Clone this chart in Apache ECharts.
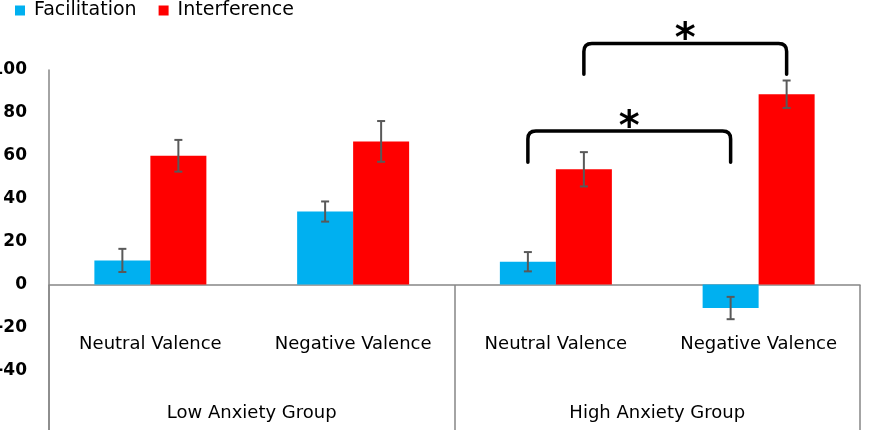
<!DOCTYPE html>
<html>
<head>
<meta charset="utf-8">
<script src="https://cdn.jsdelivr.net/npm/echarts@6/dist/echarts.min.js"></script>
<style>
  html, body { margin: 0; padding: 0; background: #fff; }
  #main { width: 870px; height: 430px; }
</style>
</head>
<body>
<div id="main"></div>
<script>
// 数据
let valenceList = ['Neutral Valence', 'Negative Valence', 'Neutral Valence', 'Negative Valence']
let groupList = ['Low Anxiety Group', 'High Anxiety Group']
let facilitation = [11.2, 34, 10.6, -11]
let facilitationErr = [5.4, 4.7, 4.5, 5.2]
let interference = [60, 66.7, 53.7, 88.7]
let interferenceErr = [7.4, 9.5, 8, 6.4]
let yTicks = [-40, -20, 0, 20, 40, 60, 80, 100]

// 显著性括号: 起止类别、所属系列(0=Facilitation, 1=Interference)、顶部值、端点值
let bracketFrom = [2, 2]
let bracketTo = [3, 3]
let bracketSeries = [0, 1]
let bracketTop = [71.5, 112.4]
let bracketEnd = [57, 98]

let font = 'DejaVu Sans'
let barWidth = 56
let offsets = [-barWidth / 2, barWidth / 2]

function errorItem(offset) {
  return function (params, api) {
    let x = api.coord([api.value(0), 0])[0] + offset
    let hi = api.coord([api.value(0), api.value(1) + api.value(2)])[1]
    let lo = api.coord([api.value(0), api.value(1) - api.value(2)])[1]
    let style = { stroke: '#595959', lineWidth: 2 }
    return {
      type: 'group',
      children: [
        { type: 'line', shape: { x1: x, y1: hi, x2: x, y2: lo }, style: style },
        { type: 'line', shape: { x1: x - 4, y1: hi, x2: x + 4, y2: hi }, style: style },
        { type: 'line', shape: { x1: x - 4, y1: lo, x2: x + 4, y2: lo }, style: style }
      ]
    }
  }
}

function bracketItem(params, api) {
  let s = api.value(2)
  let x1 = api.coord([api.value(0), 0])[0] + offsets[s]
  let x2 = api.coord([api.value(1), 0])[0] + offsets[s]
  let yt = api.coord([api.value(0), api.value(3)])[1]
  let ye = api.coord([api.value(0), api.value(4)])[1]
  let r = 8
  let path = 'M' + x1 + ' ' + ye + 'L' + x1 + ' ' + (yt + r) +
    'Q' + x1 + ' ' + yt + ' ' + (x1 + r) + ' ' + yt +
    'L' + (x2 - r) + ' ' + yt +
    'Q' + x2 + ' ' + yt + ' ' + x2 + ' ' + (yt + r) +
    'L' + x2 + ' ' + ye
  return {
    type: 'group',
    children: [
      {
        type: 'path',
        shape: { pathData: path },
        style: { stroke: '#000', lineWidth: 3.5, fill: null, lineCap: 'round', lineJoin: 'round' }
      },
      {
        type: 'text',
        style: {
          text: '*', x: (x1 + x2) / 2, y: yt - 3,
          fill: '#000', font: 'bold 40px ' + font,
          align: 'center', verticalAlign: 'middle'
        }
      }
    ]
  }
}

let myChart = echarts.init(document.getElementById('main'))

let option = {
  animation: false,
  legend: {
    data: ['Facilitation', 'Interference'],
    left: 10,
    top: 0,
    padding: [1, 5],
    icon: 'rect',
    itemWidth: 10,
    itemHeight: 10,
    itemGap: 22,
    textStyle: { fontFamily: font, fontSize: 19, color: '#000', padding: [0, 0, 0, 4] }
  },
  grid: [
    // 主绘图区 (y: -80 ~ 100)
    { left: 49, right: 10, top: 70, bottom: -26, containLabel: false, outerBoundsMode: 'none' },
    // 分类标签区: 底边落在 0 线上
    { left: 49, right: 10, top: 70, bottom: 145, containLabel: false, outerBoundsMode: 'none' }
  ],
  xAxis: [
    {
      type: 'category',
      gridIndex: 0,
      data: valenceList,
      axisLine: { onZero: true, lineStyle: { color: '#868686', width: 1.5 } },
      axisTick: { show: false },
      axisLabel: { show: false }
    },
    {
      type: 'category',
      gridIndex: 1,
      data: valenceList,
      position: 'bottom',
      axisLine: { show: false },
      axisTick: { show: false },
      axisLabel: { interval: 0, margin: 50, fontFamily: font, fontSize: 18, color: '#000' }
    },
    {
      type: 'category',
      gridIndex: 1,
      data: groupList,
      position: 'bottom',
      axisLine: { show: false },
      axisTick: { show: true, length: 150, lineStyle: { color: '#868686', width: 1.5 } },
      axisLabel: { interval: 0, margin: 119, fontFamily: font, fontSize: 18, color: '#000' }
    }
  ],
  yAxis: [
    {
      type: 'value',
      gridIndex: 0,
      min: -80,
      max: 100,
      interval: 20,
      splitLine: { show: false },
      axisTick: { show: false },
      axisLine: { show: true, lineStyle: { color: '#868686', width: 1.5 } },
      axisLabel: {
        margin: 22,
        fontFamily: font,
        fontSize: 17,
        fontWeight: 'bold',
        color: '#000',
        formatter: v => yTicks.indexOf(v) >= 0 ? String(v) : ''
      }
    },
    {
      type: 'value',
      gridIndex: 1,
      show: false
    }
  ],
  series: [
    {
      name: 'Facilitation',
      type: 'bar',
      data: facilitation,
      barWidth: barWidth,
      barGap: '0%',
      itemStyle: { color: '#00B0F0' }
    },
    {
      name: 'Interference',
      type: 'bar',
      data: interference,
      barWidth: barWidth,
      barGap: '0%',
      itemStyle: { color: '#FF0000' }
    },
    {
      name: 'errF',
      type: 'custom',
      renderItem: errorItem(offsets[0]),
      data: facilitation.map((v, i) => [i, v, facilitationErr[i]]),
      z: 10
    },
    {
      name: 'errI',
      type: 'custom',
      renderItem: errorItem(offsets[1]),
      data: interference.map((v, i) => [i, v, interferenceErr[i]]),
      z: 10
    },
    {
      name: 'brackets',
      type: 'custom',
      clip: false,
      renderItem: bracketItem,
      encode: { x: [0, 1], y: [3, 4] },
      data: bracketFrom.map((v, i) => [v, bracketTo[i], bracketSeries[i], bracketTop[i], bracketEnd[i]]),
      z: 10
    }
  ]
}

myChart.setOption(option)
</script>
</body>
</html>
